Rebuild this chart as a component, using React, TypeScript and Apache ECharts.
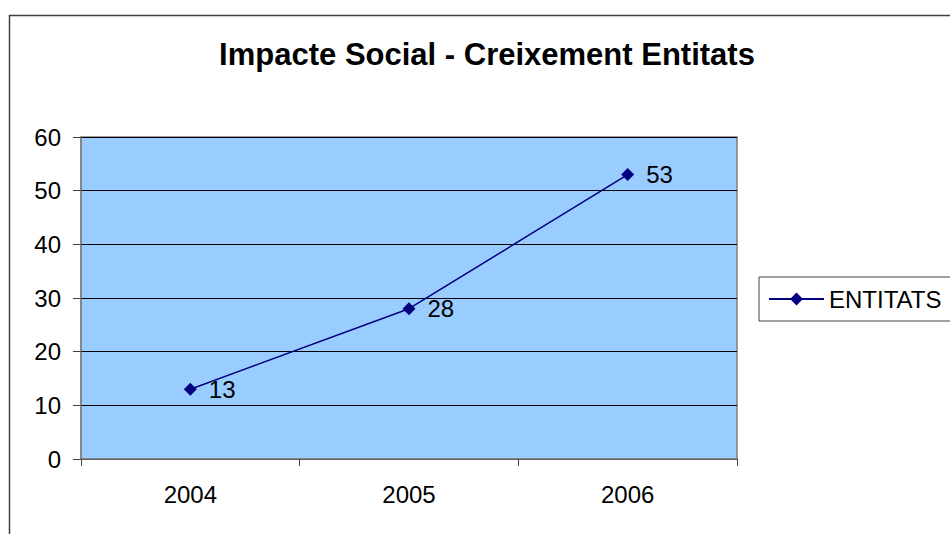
import React, { useEffect, useRef } from "react";
import * as echarts from "echarts";

const titleText = "Impacte Social - Creixement Entitats";
const years = ["2004", "2005", "2006"];
const seriesName = "ENTITATS";
const entitats = [13, 28, 53];
const yTicks = { min: 0, max: 60, interval: 10 };

const FONT = "'Liberation Sans', Arial, sans-serif";

export default function App() {
  const ref = useRef<HTMLDivElement>(null);
  useEffect(() => {
    if (!ref.current) return;
    const chart = echarts.init(ref.current, undefined, { renderer: "svg" });
    chart.setOption({
      animation: false,
      backgroundColor: "#ffffff",
      textStyle: { fontFamily: FONT },
      title: {
        text: titleText,
        left: 487,
        top: 39,
        textAlign: "center",
        padding: 0,
        textStyle: { fontFamily: FONT, fontSize: 31, fontWeight: "bold", color: "#000" },
      },
      graphic: [
        {
          type: "rect",
          shape: { x: 9.5, y: 15.5, width: 1200, height: 1000 },
          style: { fill: "none", stroke: "#404040", lineWidth: 1.5 },
          silent: true,
          z: -1,
        },
      ],
      legend: {
        data: [seriesName],
        left: 759,
        top: 277,
        orient: "vertical",
        padding: [10, 40, 10, 9],
        itemWidth: 55,
        itemHeight: 16,
        itemGap: 0,
        borderColor: "#404040",
        borderWidth: 1,
        backgroundColor: "#ffffff",
        textStyle: { fontFamily: FONT, fontSize: 24, color: "#000", padding: [0, 0, 0, 0] },
      },
      grid: {
        left: 81,
        top: 137,
        width: 656,
        height: 322,
        show: true,
        backgroundColor: "#99CCFF",
        borderColor: "#808080",
        borderWidth: 1.5,
        containLabel: false,
      },
      xAxis: {
        type: "category",
        data: years,
        boundaryGap: true,
        axisLine: { show: true, lineStyle: { color: "#808080", width: 1.5 } },
        axisTick: { show: true, length: 7, alignWithLabel: false, lineStyle: { color: "#404040" } },
        axisLabel: { fontFamily: FONT, fontSize: 24, color: "#000", margin: 23 },
        splitLine: { show: false },
      },
      yAxis: {
        type: "value",
        min: yTicks.min,
        max: yTicks.max,
        interval: yTicks.interval,
        axisLine: { show: true, lineStyle: { color: "#808080", width: 1.5 } },
        axisTick: { show: true, length: 8, lineStyle: { color: "#404040" } },
        axisLabel: { fontFamily: FONT, fontSize: 24, color: "#000", margin: 20 },
        splitLine: { show: true, lineStyle: { color: "#000000", width: 1 } },
      },
      series: [
        {
          name: seriesName,
          type: "line",
          data: entitats,
          symbol: "diamond",
          symbolSize: 13,
          color: "#000080",
          lineStyle: { color: "#000080", width: 1.5 },
          itemStyle: { color: "#000080" },
          label: {
            show: true,
            position: "right",
            distance: 12,
            fontFamily: FONT,
            fontSize: 24,
            color: "#000",
          },
        },
      ],
    });
    return () => chart.dispose();
  }, []);
  return (
    <div
      ref={ref}
      style={{ position: "fixed", left: 0, top: 0, width: 950, height: 534 }}
    />
  );
}
